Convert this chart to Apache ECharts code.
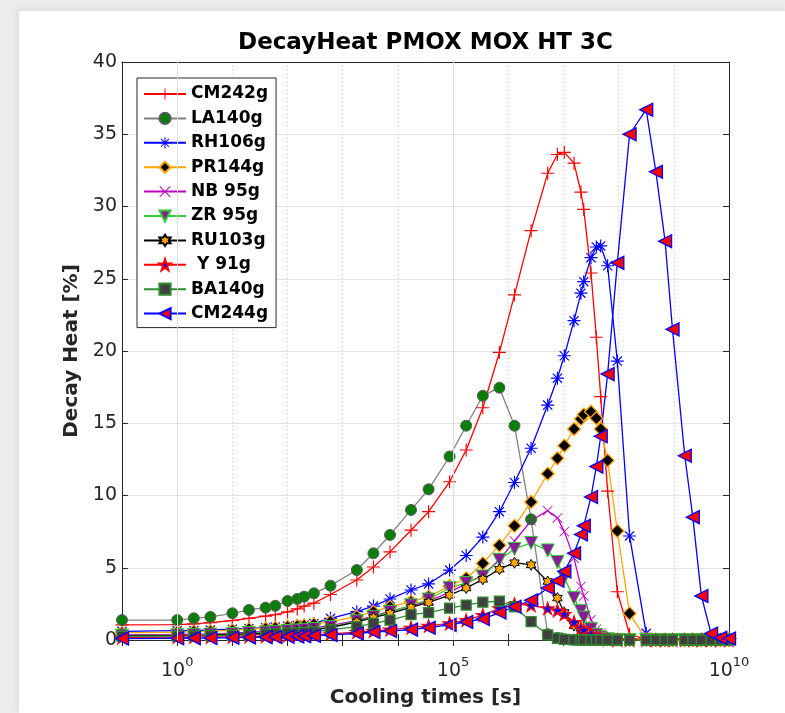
<!DOCTYPE html>
<html><head><meta charset="utf-8">
<script src="https://cdn.jsdelivr.net/npm/echarts@6/dist/echarts.min.js"></script>
<style>
html,body{margin:0;padding:0;background:#ececec;width:785px;height:713px;overflow:hidden;}
#frame{position:absolute;left:19px;top:11px;width:766px;height:702px;background:#fff;box-shadow:-3px -3px 6px rgba(0,0,0,0.05);}
#chart{position:absolute;left:0;top:0;width:785px;height:713px;}
</style></head><body>
<div id="frame"></div>
<div id="chart"></div>
<script>
// Cooling times [s]
const times = [0.1, 1, 2, 4, 10, 20, 40, 60, 100, 150, 200, 300, 600, 1800, 3600, 7200, 17280, 36000, 86400, 172800, 345600, 691200, 1296000, 2592000, 5184000, 7776000, 10368000, 15552000, 20736000, 23328000, 31557600, 39447000, 47336400, 63115200, 94672800, 157788000, 315576000, 473364000, 694267200, 946728000, 1577880000, 2208960000, 3155760000, 4733640000, 6942672000, 10000000000];

const seriesNames = ['CM242g', 'LA140g', 'RH106g', 'PR144g', 'NB 95g', 'ZR 95g', 'RU103g', ' Y 91g', 'BA140g', 'CM244g'];

const cm242 = [1.05, 1.07, 1.12, 1.2, 1.35, 1.5, 1.65, 1.75, 1.95, 2.15, 2.35, 2.55, 3.15, 4.15, 5.05, 6.1, 7.6, 8.88, 10.95, 13.15, 16.07, 19.9, 23.88, 28.33, 32.3, 33.6, 33.75, 33.0, 31.0, 29.8, 25.4, 20.95, 16.84, 10.3, 3.34, 0.4, 0.05, 0, 0, 0, 0, 0, 0, 0, 0, 0];
const la140 = [1.38, 1.38, 1.5, 1.6, 1.85, 2.08, 2.24, 2.37, 2.7, 2.84, 3.0, 3.23, 3.76, 4.84, 6.0, 7.27, 9.0, 10.43, 12.7, 14.83, 16.9, 17.46, 14.83, 8.35, 0.4, 0.14, 0.06, 0.02, 0.01, 0, 0, 0, 0, 0, 0, 0, 0, 0, 0, 0, 0, 0, 0, 0, 0, 0];
const rh106 = [0.6, 0.65, 0.65, 0.7, 0.75, 0.8, 0.85, 0.9, 0.95, 1.0, 1.04, 1.15, 1.5, 1.96, 2.35, 2.84, 3.46, 3.88, 4.84, 5.85, 7.12, 8.88, 10.9, 13.27, 16.26, 18.12, 19.67, 22.1, 24.0, 24.8, 26.46, 27.2, 27.27, 25.9, 19.3, 7.2, 0.46, 0.03, 0, 0, 0, 0, 0, 0, 0, 0];
const pr144 = [0.5, 0.55, 0.58, 0.6, 0.68, 0.75, 0.8, 0.85, 0.92, 0.97, 1.0, 1.08, 1.27, 1.61, 1.96, 2.3, 2.65, 3.0, 3.74, 4.27, 5.3, 6.55, 7.9, 9.55, 11.5, 12.58, 13.45, 14.6, 15.3, 15.6, 15.8, 15.35, 14.6, 12.43, 7.55, 1.84, 0.05, 0, 0, 0, 0, 0, 0, 0, 0, 0];
const nb95 = [0.35, 0.38, 0.4, 0.42, 0.48, 0.55, 0.6, 0.65, 0.7, 0.75, 0.78, 0.85, 1.0, 1.35, 1.65, 2.0, 2.35, 2.7, 3.3, 3.9, 4.5, 5.55, 6.85, 8.25, 8.95, 8.45, 7.5, 5.65, 3.7, 3.05, 1.4, 0.75, 0.45, 0.15, 0.03, 0, 0, 0, 0, 0, 0, 0, 0, 0, 0, 0];
const zr95 = [0.3, 0.33, 0.35, 0.38, 0.42, 0.48, 0.52, 0.56, 0.62, 0.66, 0.7, 0.76, 0.9, 1.3, 1.6, 1.95, 2.4, 2.8, 3.6, 3.95, 4.4, 5.55, 6.3, 6.72, 6.2, 5.4, 4.3, 2.9, 2.0, 1.55, 0.75, 0.35, 0.18, 0.05, 0.01, 0, 0, 0, 0, 0, 0, 0, 0, 0, 0, 0];
const ru103 = [0.28, 0.3, 0.32, 0.34, 0.38, 0.43, 0.47, 0.5, 0.55, 0.6, 0.63, 0.7, 0.85, 1.25, 1.55, 1.85, 2.25, 2.6, 3.1, 3.6, 4.2, 4.9, 5.35, 5.2, 4.05, 2.9, 1.9, 1.0, 0.5, 0.35, 0.12, 0.05, 0.02, 0, 0, 0, 0, 0, 0, 0, 0, 0, 0, 0, 0, 0];
const y91 = [0.18, 0.2, 0.2, 0.21, 0.22, 0.24, 0.26, 0.28, 0.3, 0.32, 0.34, 0.37, 0.43, 0.55, 0.62, 0.72, 0.85, 0.98, 1.15, 1.38, 1.73, 2.19, 2.49, 2.4, 2.19, 2.05, 1.8, 1.25, 0.85, 0.7, 0.4, 0.22, 0.12, 0.03, 0, 0, 0, 0, 0, 0, 0, 0, 0, 0, 0, 0];
const ba140 = [0.25, 0.27, 0.28, 0.3, 0.33, 0.36, 0.4, 0.43, 0.47, 0.5, 0.53, 0.58, 0.7, 0.92, 1.15, 1.38, 1.75, 1.9, 2.2, 2.42, 2.62, 2.68, 2.3, 1.27, 0.35, 0.12, 0.05, 0.01, 0, 0, 0, 0, 0, 0, 0, 0, 0, 0, 0, 0, 0, 0, 0, 0, 0, 0];
const cm244 = [0.1, 0.12, 0.13, 0.14, 0.16, 0.18, 0.2, 0.21, 0.23, 0.25, 0.27, 0.3, 0.35, 0.45, 0.55, 0.62, 0.72, 0.85, 1.05, 1.25, 1.45, 1.9, 2.3, 2.75, 3.6, 4.1, 4.75, 6.0, 7.3, 7.9, 9.9, 12.0, 14.1, 18.4, 26.1, 35.0, 36.7, 32.4, 27.6, 21.5, 12.75, 8.5, 3.05, 0.45, 0.15, 0.1];

// axis ticks: decades 10^-1 .. 10^10 (exponents), labels at these exponents
const decadeMin = -1, decadeMax = 10;
const xLabelExponents = [0, 5, 10];
const majorXGrid = [1, 100000];
const yTicks = [0, 5, 10, 15, 20, 25, 30, 35, 40];

const FONT = 'DejaVu Sans';
const SYM = {
  plus: 'path://M-0.09,-1L0.09,-1L0.09,1L-0.09,1ZM-1,-0.09L1,-0.09L1,0.09L-1,0.09Z',
  cross: 'path://M-0.658,-0.742L0.742,0.658L0.658,0.742L-0.742,-0.658ZM0.658,-0.742L0.742,-0.658L-0.658,0.742L-0.742,0.658Z',
  aster: 'path://M-0.09,-1L0.09,-1L0.09,1L-0.09,1ZM-1,-0.09L1,-0.09L1,0.09L-1,0.09ZM-0.64,-0.77L0.77,0.64L0.64,0.77L-0.77,-0.64ZM0.64,-0.77L0.77,-0.64L-0.64,0.77L-0.77,0.64Z',
  down: 'path://M-1,-1L1,-1L0,1Z',
  left: 'path://M1,-1L1,1L-1,0Z',
  hexa: 'path://M0,-1L0.2887,-0.5L0.866,-0.5L0.577,0L0.866,0.5L0.2887,0.5L0,1L-0.2887,0.5L-0.866,0.5L-0.577,0L-0.866,-0.5L-0.2887,-0.5Z',
  penta: 'path://M0,-1L0.2245,-0.309L0.951,-0.309L0.363,0.118L0.5878,0.809L0,0.382L-0.5878,0.809L-0.363,0.118L-0.951,-0.309L-0.2245,-0.309Z'
};

function mk(name, vals, symbol, size, line, fill, edge, bw) {
  return {
    type: 'line', name: name, xAxisIndex: 0, yAxisIndex: 0,
    data: times.map((t, i) => [t, vals[i]]),
    symbol: symbol, symbolSize: size, symbolKeepAspect: true, showAllSymbol: true,
    lineStyle: {color: line, width: 1.3},
    itemStyle: {color: fill, borderColor: edge, borderWidth: bw},
    emphasis: {disabled: true}, animation: false, z: 3
  };
}

const series = [
  mk(seriesNames[0], cm242, SYM.plus, 13, '#ff0000', '#ff0000', '#ff0000', 0),
  mk(seriesNames[1], la140, 'circle', 11, '#808080', '#0a7d0a', '#5a5a5a', 1),
  mk(seriesNames[2], rh106, SYM.aster, 13, '#0000ff', '#0000ff', '#0000ff', 0),
  mk(seriesNames[3], pr144, 'diamond', 13, '#ffa500', '#000000', '#ffa500', 1.3),
  mk(seriesNames[4], nb95, SYM.cross, 10, '#c000c0', '#c000c0', '#c000c0', 0),
  mk(seriesNames[5], zr95, SYM.down, 13, '#33cc33', '#8b1a9b', '#33cc33', 1),
  mk(seriesNames[6], ru103, SYM.hexa, 11, '#000000', '#ffa500', '#000000', 1),
  mk(seriesNames[7], y91, SYM.penta, 13, '#ff0000', '#0000ff', '#ff0000', 1.2),
  mk(seriesNames[8], ba140, 'rect', 10, '#2e8b2e', '#404040', '#2e8b2e', 1.3),
  mk(seriesNames[9], cm244, SYM.left, 13, '#0000ff', '#ff0000', '#0000ff', 1.3)
];
series.push({
  type: 'line', name: 'grid', data: [], z: 1, silent: true, xAxisIndex: 0, yAxisIndex: 0,
  markLine: {
    silent: true, symbol: 'none', label: {show: false}, animation: false,
    lineStyle: {color: '#dcdcdc', type: 'solid', width: 1},
    data: majorXGrid.map(v => ({xAxis: v}))
  }
});

const axisCol = '#262626';
const hiddenLogAxis = (pos, withName) => Object.assign({
  type: 'log', logBase: 10, min: times[0] < 0.1 ? times[0] : 0.1, max: 1e10, position: pos,
  axisLine: {show: true, onZero: false, lineStyle: {color: axisCol, width: 1}},
  axisTick: {show: false}, axisLabel: {show: false}, splitLine: {show: false}
}, withName ? {
  name: 'Cooling times [s]', nameLocation: 'middle', nameGap: 48,
  nameTextStyle: {fontFamily: FONT, fontWeight: 'bold', fontSize: 20, color: axisCol}
} : {});

const chart = echarts.init(document.getElementById('chart'), null, {renderer: 'canvas'});
chart.setOption({
  backgroundColor: 'transparent',
  animation: false,
  textStyle: {fontFamily: FONT},
  grid: {left: 122, right: 56, top: 62, bottom: 73, containLabel: false},
  graphic: [{
    type: 'text', x: 425.5, y: 43,
    style: {text: 'DecayHeat PMOX MOX HT 3C', font: 'bold 23px "DejaVu Sans"', fill: '#000', textAlign: 'center', textVerticalAlign: 'middle'}
  }],
  legend: {
    data: seriesNames, orient: 'vertical', left: 137, top: 78,
    backgroundColor: '#fff', borderColor: axisCol, borderWidth: 1,
    padding: [6, 8, 4, 6], itemWidth: 42, itemHeight: 14, itemGap: 4.4,
    selectedMode: false,
    textStyle: {fontFamily: FONT, fontWeight: 'bold', fontSize: 17, color: '#000', lineHeight: 20}
  },
  xAxis: [
    hiddenLogAxis('bottom', true),
    hiddenLogAxis('top', false),
    {
      type: 'value', min: decadeMin, max: decadeMax, interval: 1, position: 'bottom',
      axisLine: {show: false},
      axisTick: {show: true, inside: true, length: 6, lineStyle: {color: axisCol}},
      splitLine: {show: true, lineStyle: {color: '#cccccc', type: [1, 3], width: 1}},
      axisLabel: {
        margin: 13, color: axisCol, fontFamily: FONT, showMinLabel: true, showMaxLabel: true,
        formatter: function (e) {
          return xLabelExponents.indexOf(e) >= 0 ? '{b|10}{s|' + e + '}' : '';
        },
        rich: {
          b: {fontSize: 19, fontFamily: FONT, color: axisCol, padding: [9, 0, 0, 0]},
          s: {fontSize: 13, fontFamily: FONT, color: axisCol, padding: [0, 0, 9, 0]}
        }
      }
    },
    {
      type: 'value', min: decadeMin, max: decadeMax, interval: 1, position: 'top',
      axisLine: {show: false},
      axisTick: {show: true, inside: true, length: 6, lineStyle: {color: axisCol}},
      axisLabel: {show: false}, splitLine: {show: false}
    }
  ],
  yAxis: [{
    type: 'value', min: 0, max: 40, interval: 5, position: 'left',
    name: 'Decay Heat [%]', nameLocation: 'middle', nameGap: 36, nameRotate: 90,
    nameTextStyle: {fontFamily: FONT, fontWeight: 'bold', fontSize: 20, color: axisCol},
    axisLine: {show: true, onZero: false, lineStyle: {color: axisCol, width: 1}},
    axisTick: {show: true, inside: true, length: 6, lineStyle: {color: axisCol}},
    splitLine: {show: true, lineStyle: {color: '#e3e3e3', width: 1}},
    axisLabel: {
      margin: 5, color: axisCol, fontFamily: FONT, fontSize: 19,
      formatter: function (v) { return yTicks.indexOf(v) >= 0 ? String(v) : ''; }
    }
  }, {
    type: 'value', min: 0, max: 40, interval: 5, position: 'right',
    axisLine: {show: true, onZero: false, lineStyle: {color: axisCol, width: 1}},
    axisTick: {show: true, inside: true, length: 6, lineStyle: {color: axisCol}},
    axisLabel: {show: false}, splitLine: {show: false}
  }],
  series: series
});
</script>
</body></html>
